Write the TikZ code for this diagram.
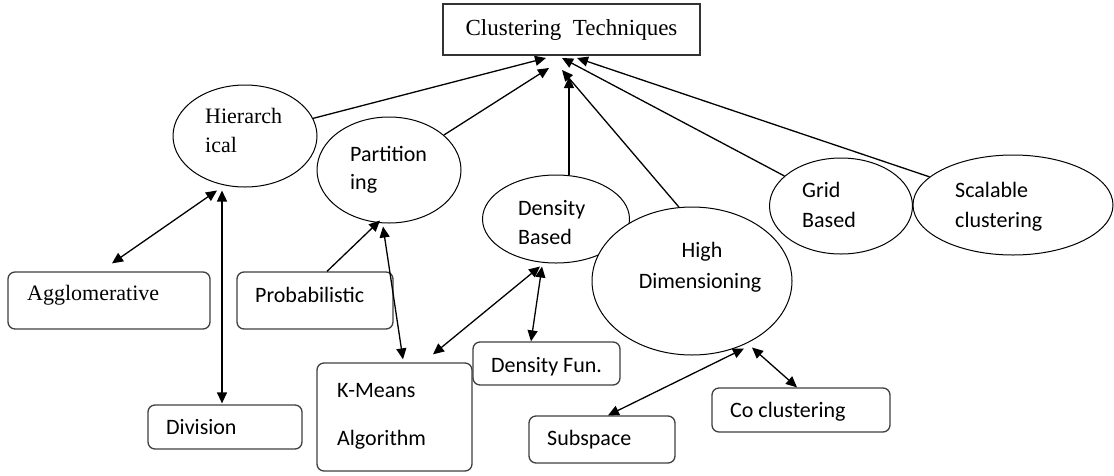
\documentclass[tikz,border=0pt]{standalone}
\usepackage{fontspec}
\setmainfont{Liberation Serif}
\newfontfamily\calfont{Carlito}
\usetikzlibrary{shapes.geometric,arrows.meta,calc}
\begin{document}
\begin{tikzpicture}[x=1pt,y=-1pt,
  ell/.style={draw=black, line width=1pt, ellipse, inner sep=0pt},
  rbox/.style={draw=black!75, line width=1.3pt, rounded corners=7pt, inner sep=0pt},
  tbox/.style={draw=black!80, line width=1.4pt, inner sep=0pt},
  ser/.style={font=\fontsize{22}{26}\selectfont, inner sep=0pt, anchor=base west},
  san/.style={font=\calfont\fontsize{22}{26}\selectfont, inner sep=0pt, anchor=base west},
  arr/.style={line width=1.3pt, -{Triangle[length=11pt,width=10pt]}},
  darr/.style={line width=1.3pt, {Triangle[length=11pt,width=10pt]}-{Triangle[length=11pt,width=10pt]}}]
\fill[white] (0,0) rectangle (1114,475);
\useasboundingbox (0,0) rectangle (1114,475);

% top box
\node[tbox, minimum width=257pt, minimum height=51pt] (ct) at (571.5,29.5) {};
\node[font=\fontsize{23}{26}\selectfont, inner sep=0pt, anchor=base] (ctt) at (571.5,35) {Clustering\ \ Techniques};

% ellipses
\node[ell, minimum width=144pt, minimum height=102pt] (h) at (245,136) {};
\node[ell, minimum width=144pt, minimum height=106pt] (p) at (389,170) {};
\node[ell, fill=white, minimum width=147pt, minimum height=88pt] (d) at (556,219) {};
\node[ell, fill=white, minimum width=200pt, minimum height=148pt] (hd) at (692,281) {};
\node[ell, minimum width=143pt, minimum height=96pt] (g) at (841,206) {};
\node[ell, minimum width=200pt, minimum height=100pt] (sc) at (1013,205) {};

% boxes
\node[rbox, minimum width=202pt, minimum height=57pt] (agg) at (109,300.5) {};
\node[rbox, minimum width=156pt, minimum height=57pt] (prob) at (315,300.5) {};
\node[rbox, minimum width=154pt, minimum height=44pt] (div) at (225,427) {};
\node[rbox, minimum width=155pt, minimum height=108pt] (km) at (394.5,417) {};
\node[rbox, fill=white, minimum width=147pt, minimum height=43pt] (df) at (546.5,363.5) {};
\node[rbox, minimum width=146pt, minimum height=47pt] (sub) at (602,439.5) {};
\node[rbox, minimum width=178pt, minimum height=44pt] (co) at (801,410) {};

% texts
\node[ser] (ht1) at (205,123) {Hierarch};
\node[ser] (ht2) at (205,152) {ical};
\node[san] (pt1) at (350,161) {Partition};
\node[san] (pt2) at (350,189) {ing};
\node[san] (dt1) at (518,215) {Density};
\node[san] (dt2) at (518,244) {Based};
\node[san, anchor=base] (hdt1) at (702,257) {High};
\node[san, anchor=base] (hdt2) at (700,288) {Dimensioning};
\node[san] (gt1) at (802,197) {Grid};
\node[san] (gt2) at (802,227) {Based};
\node[san] (sct1) at (955,197) {Scalable};
\node[san] (sct2) at (955,227) {clustering};
\node[ser] (aggt) at (27,300) {Agglomerative};
\node[san] (probt) at (255,302) {Probabilistic};
\node[san] (divt) at (166,434) {Division};
\node[san] (kmt1) at (337,397) {K-Means};
\node[san] (kmt2) at (337,445) {Algorithm};
\node[san] (dft) at (491,372) {Density Fun.};
\node[san] (subt) at (547,445) {Subspace};
\node[san] (cot) at (730,417) {Co clustering};

% arrow tips under the top box
\coordinate (t1) at (546,58);
\coordinate (t2) at (549,68);
\coordinate (t3) at (569,77);
\coordinate (t4) at (562,70);
\coordinate (t5) at (562,58);
\coordinate (t6) at (577,58);

\draw[arr] (h) -- (t1);
\draw[arr] (p) -- (t2);
\draw[arr] (t3 |- d.north) -- (t3);
\draw[arr] (hd.100) -- (t4);
\draw[arr] (g) -- (t5);
\draw[arr] (sc) -- (t6);

% lower connectors
\draw[darr] ($(h.south)+(-28,3)$) -- ($(agg.north)+(3,-8)$);
\draw[darr] ($(h.south)+(-23,3)$) -- ($(div.north)+(-3,-1)$);
\draw[arr] ($(prob.north)+(12,0)$) -- ($(p.south)+(-9,-3)$);
\draw[darr] ($(p.south)+(-6,3)$) -- ($(km.north)+(8.5,-3)$);
\draw[darr] ($(d.south)+(-16,3)$) -- ($(km.north)+(38.5,-8)$);
\draw[darr] ($(d.south)+(-14,3)$) -- ($(df.north)+(-15.5,0)$);
\draw[darr] ($(hd.south)+(52,-7)$) -- ($(sub.north)+(6,0)$);
\draw[darr] ($(hd.south)+(60,-8)$) -- ($(co.north)+(-4,0)$);
\end{tikzpicture}
\end{document}
